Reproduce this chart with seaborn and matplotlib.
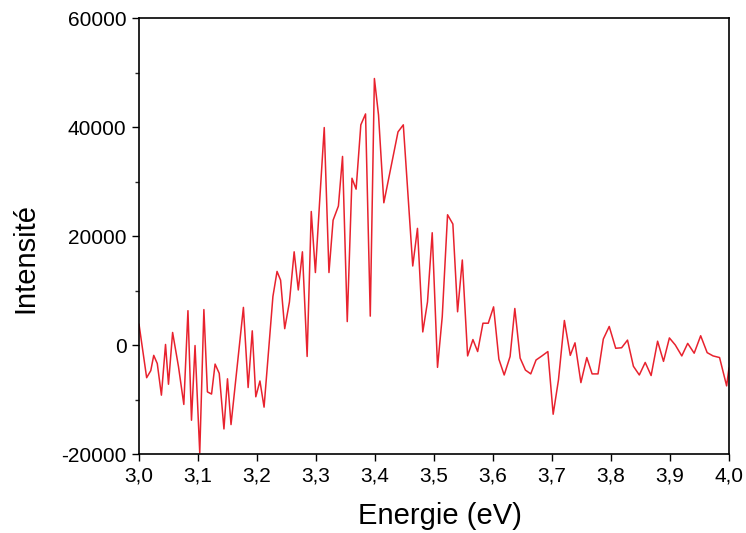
import matplotlib
matplotlib.use("Agg")
import matplotlib.pyplot as plt
from matplotlib.ticker import FuncFormatter, MultipleLocator
import pandas as pd
import seaborn as sns

# Values
energie = [
    3.000, 3.013, 3.020, 3.025, 3.031, 3.038, 3.045, 3.050, 3.057, 3.067,
    3.076, 3.083, 3.089, 3.095, 3.103, 3.110, 3.116, 3.123, 3.129, 3.136,
    3.144, 3.150, 3.156, 3.177, 3.185, 3.192, 3.198, 3.205, 3.212, 3.227,
    3.234, 3.240, 3.247, 3.255, 3.263, 3.270, 3.277, 3.285, 3.292, 3.299,
    3.306, 3.314, 3.322, 3.329, 3.338, 3.345, 3.353, 3.361, 3.368, 3.376,
    3.384, 3.392, 3.399, 3.406, 3.415, 3.439, 3.448, 3.464, 3.472, 3.481,
    3.489, 3.497, 3.506, 3.514, 3.523, 3.532, 3.540, 3.548, 3.557, 3.566,
    3.574, 3.583, 3.592, 3.601, 3.610, 3.619, 3.629, 3.637, 3.646, 3.655,
    3.664, 3.673, 3.683, 3.693, 3.702, 3.711, 3.721, 3.731, 3.739, 3.749,
    3.759, 3.768, 3.778, 3.787, 3.797, 3.808, 3.818, 3.828, 3.838, 3.848,
    3.858, 3.868, 3.879, 3.889, 3.899, 3.909, 3.920, 3.930, 3.941, 3.952,
    3.963, 3.973, 3.984, 3.996, 4.000,
]
intensite = [
    3850, -6000, -4700, -1900, -3400, -9200, 100, -7200, 2300, -4000,
    -10900, 6300, -13800, -100, -19800, 6500, -8600, -9000, -3500, -5200,
    -15400, -6200, -14600, 6900, -7800, 2600, -9500, -6600, -11400, 8900,
    13500, 11900, 3000, 7900, 17100, 10100, 17100, -2100, 24500, 13300,
    26000, 39900, 13300, 22900, 25500, 34600, 4300, 30600, 28600, 40400,
    42400, 5300, 48900, 42200, 26100, 39100, 40400, 14500, 21400, 2400,
    7900, 20600, -4100, 5200, 23900, 22200, 6100, 15600, -2000, 1000,
    -1200, 4000, 4000, 7000, -2600, -5500, -2100, 6700, -2400, -4600,
    -5300, -2750, -2000, -1200, -12700, -6400, 4500, -1900, 400, -6900,
    -2300, -5300, -5300, 1100, 3400, -600, -500, 900, -3900, -5500,
    -3200, -5600, 700, -3000, 1300, 0, -2000, 300, -1500, 1700,
    -1400, -2000, -2300, -7500, -4200,
]

df = pd.DataFrame({"energie": energie, "intensite": intensite})

sns.set_style("ticks")
plt.rcParams["font.family"] = ["Liberation Sans", "DejaVu Sans"]

fig = plt.figure(figsize=(7.46, 5.33), dpi=100)
ax = fig.add_axes([0.1863, 0.1482, 0.7909, 0.8180])

sns.lineplot(data=df, x="energie", y="intensite", ax=ax, color="#e8222e",
             linewidth=1.1, estimator=None)

ax.set_xlim(3.0, 4.0)
ax.set_ylim(-20000, 60000)
ax.xaxis.set_major_locator(MultipleLocator(0.1))
ax.yaxis.set_major_locator(MultipleLocator(20000))
ax.yaxis.set_minor_locator(MultipleLocator(10000))
ax.xaxis.set_major_formatter(FuncFormatter(lambda v, p: f"{v:.1f}".replace(".", ",")))
ax.yaxis.set_major_formatter(FuncFormatter(lambda v, p: f"{v:.0f}"))

ax.tick_params(axis="both", which="major", direction="out", length=5, width=1,
               labelsize=15, colors="black", pad=4)
ax.tick_params(axis="y", which="minor", direction="out", length=3, width=1)
for side in ["top", "right", "left", "bottom"]:
    ax.spines[side].set_visible(True)
    ax.spines[side].set_linewidth(1.2)
    ax.spines[side].set_color("black")

ax.set_xlabel("Energie (eV)", fontsize=21, color="black")
ax.set_ylabel("Intensité", fontsize=21, color="black")
# the labels sit a little off-centre in the original
ax.xaxis.set_label_coords(0.51, -0.11)
ax.yaxis.set_label_coords(-0.168, 0.45)

fig.savefig("out.png", dpi=100)
